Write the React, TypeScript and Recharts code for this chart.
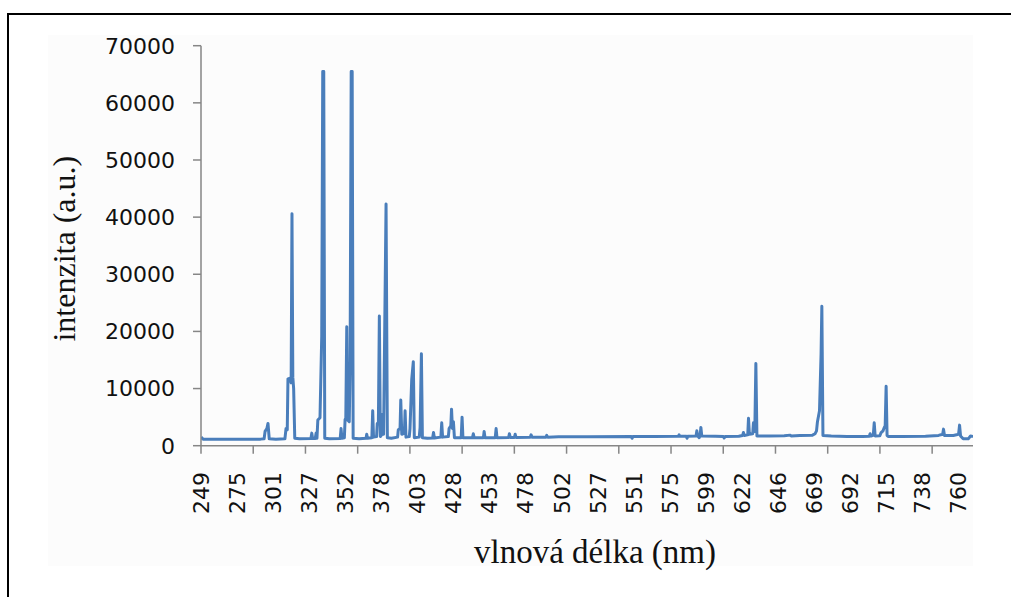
import { Label, Line, LineChart, XAxis, YAxis } from "recharts";

// category labels printed under the x axis (nm), evenly spaced in the original
const WAVE_LABELS = [
  249, 275, 301, 327, 352, 378, 403, 428, 453, 478, 502, 527, 551, 575, 599, 622, 646, 669, 692, 715, 738, 760,
];
const AXIS_END_NM = 769;
// Excel put a tick mark every ~1.45 label steps
const TICK_MARK_STEP = 1.4483;
const Y_TICKS = [0, 10000, 20000, 30000, 40000, 50000, 60000, 70000];

// [wavelength nm, intensity a.u.]
const SPECTRUM: [number, number][] = [
  [249, 1500], [250.5, 1150], [270, 1150], [292, 1150],
  [294.5, 1200], [295.2, 2500], [296.5, 3000], [297.3, 3900], [298.2, 1200],
  [303, 1150], [309.5, 1200],
  [310.3, 3000], [311.2, 2800], [311.7, 11700], [313.2, 11800], [314.0, 11000], [314.6, 40600],
  [315.2, 12000], [315.8, 10000], [316.6, 1300],
  [320, 1200], [328.2, 1250], [328.8, 2200], [329.4, 1250], [331.2, 1250], [331.8, 2200], [332.4, 1300],
  [333.0, 4500], [334.5, 4900], [335.7, 19100], [336.4, 65500], [337.1, 65500], [337.8, 1300],
  [341, 1200], [348.5, 1250], [349.1, 3000], [349.7, 1300], [351.4, 1400], [351.9, 4600], [352.4, 4800],
  [353.1, 20800], [353.7, 4500], [354.9, 4200], [355.5, 14100], [356.3, 65500], [357.0, 65500], [357.7, 1300],
  [362, 1200], [367.0, 1300], [367.5, 2000], [368.0, 1300], [371.2, 1400], [371.8, 6100], [372.4, 1500],
  [374.6, 1600], [375.1, 3900], [375.9, 3800], [376.6, 22700], [377.3, 1600], [378.5, 2000], [379.0, 5500],
  [379.6, 2000], [380.1, 14100], [381.3, 42300], [382.2, 1400],
  [385, 1300], [389.3, 1500], [389.8, 2800], [391.0, 3000], [391.5, 8000], [392.2, 2000], [394.0, 2200],
  [394.5, 6100], [395.1, 1500], [397.4, 1600], [397.9, 3000], [399.1, 11600], [400.2, 14700], [400.9, 1400],
  [404.3, 1500], [404.9, 3200], [405.8, 16100], [406.5, 1400],
  [410, 1300], [413.6, 1350], [414.2, 2300], [414.8, 1350], [419.3, 1500], [419.9, 4000], [420.5, 1500],
  [424.5, 1600], [425.0, 3000], [426.2, 3500], [426.7, 6400], [427.3, 3000], [428.0, 4200], [428.7, 1400],
  [433.4, 1400], [434.0, 5000], [434.6, 1400],
  [441.2, 1400], [441.8, 2100], [442.4, 1400], [448.8, 1400], [449.3, 2500], [449.9, 1400],
  [457.0, 1400], [457.6, 3000], [458.2, 1400],
  [466.3, 1450], [466.8, 2100], [467.4, 1450], [470.3, 1450], [470.8, 2000], [471.4, 1450],
  [481.2, 1500], [481.7, 1900], [482.3, 1500], [491.6, 1500], [492.1, 1800], [492.7, 1500],
  [500, 1550], [520, 1550], [549.4, 1600], [549.9, 1300], [550.5, 1600], [565, 1600],
  [580.7, 1650], [581.2, 1900], [581.7, 1650], [586, 1650], [586.5, 1300], [587, 1650],
  [592.5, 1700], [593.0, 2600], [593.6, 1700], [594.6, 1400], [595.2, 1800], [595.7, 3200], [596.3, 1700],
  [605, 1650], [610.2, 1600], [610.7, 1350], [611.3, 1600], [620, 1650],
  [622.5, 1800], [623.0, 2300], [623.6, 1800], [625.9, 1900], [626.4, 4800], [627.0, 2000],
  [629.2, 2100], [629.7, 4000], [630.6, 2500], [631.3, 14400], [632.0, 1700],
  [640, 1700], [650, 1750], [653.8, 1850], [654.4, 1700], [660, 1800], [668, 1850],
  [669.7, 2100], [670.6, 2600], [671.2, 4200], [672.5, 6100], [673.5, 16000], [674.0, 24400], [674.7, 1800],
  [680, 1700], [690, 1600], [700, 1600],
  [704.3, 1650], [704.8, 2100], [705.4, 1700], [706.8, 1800], [707.4, 4000], [708.0, 1700],
  [711.0, 1750], [711.8, 2300], [713.0, 2600], [713.7, 3100], [714.4, 3500], [715.0, 10400], [715.6, 1800], [716.3, 1600],
  [725, 1600], [740, 1650], [748, 1800], [750.5, 2000], [751.0, 2900], [751.6, 1800],
  [757, 1800], [760.2, 2000], [760.8, 3600], [761.4, 1700], [763.0, 1200], [766.1, 1200], [767.5, 1700], [769, 1600],
];

const AXIS_GRAY = "#868686";
const LINE_BLUE = "#4A7EBB";

// the printed labels sit at equal steps, so place a wavelength by its label slot
function labelPos(nm: number): number {
  const last = WAVE_LABELS.length - 1;
  for (let i = 0; i < last; i++) {
    if (nm <= WAVE_LABELS[i + 1]) {
      return i + (nm - WAVE_LABELS[i]) / (WAVE_LABELS[i + 1] - WAVE_LABELS[i]);
    }
  }
  return last - 1 + (nm - WAVE_LABELS[last - 1]) / (WAVE_LABELS[last] - WAVE_LABELS[last - 1]);
}

const POS_END = labelPos(AXIS_END_NM);
const chartData = SPECTRUM.map(([nm, value]) => ({ pos: labelPos(nm), value }));

const labelTicks = WAVE_LABELS.map((_, i) => i);
const markTicks: number[] = [];
for (let k = 1; k * TICK_MARK_STEP <= POS_END; k++) markTicks.push(k * TICK_MARK_STEP);
const xTicks = [...labelTicks, ...markTicks].sort((a, b) => a - b);

function WaveTick(props: any) {
  const { x, y, payload } = props;
  const v = payload.value as number;
  const isLabel = Number.isInteger(v);
  return (
    <g>
      {(!isLabel || v === 0) && <line x1={x} y1={y} x2={x} y2={y + 8} stroke={AXIS_GRAY} strokeWidth={1.5} />}
      {isLabel && (
        <text
          transform={`translate(${x},${y + 26.3}) rotate(-90)`}
          textAnchor="end"
          dy="0.36em"
          fontFamily="DejaVu Sans"
          fontSize={22}
          fill="#111"
        >
          {WAVE_LABELS[v]}
        </text>
      )}
    </g>
  );
}

export default function App() {
  return (
    <div style={{ position: "absolute", left: 0, top: 0, width: 1011, height: 597, background: "#fff" }}>
      <div style={{ position: "absolute", left: 48, top: 35, width: 925, height: 531, background: "#fcfcfc" }} />
      <div
        style={{
          position: "absolute",
          left: 7,
          top: 13,
          right: 0,
          bottom: 0,
          borderTop: "2px solid #000",
          borderLeft: "2px solid #000",
        }}
      />
      <div style={{ position: "absolute", left: 0, top: 0 }}>
        <LineChart width={1011} height={597} data={chartData} margin={{ top: 45.7, right: 38, bottom: 0, left: 0 }}>
          <XAxis
            dataKey="pos"
            type="number"
            domain={[0, POS_END]}
            allowDataOverflow
            ticks={xTicks}
            interval={0}
            tickLine={false}
            tickSize={0}
            tickMargin={0}
            tick={<WaveTick />}
            stroke={AXIS_GRAY}
            strokeWidth={1.5}
            height={151.3}
          >
            <Label
              content={(p: any) => {
                const vb = p.viewBox;
                return (
                  <text
                    x={vb.x + vb.width / 2 + 8}
                    y={vb.y + 117}
                    textAnchor="middle"
                    fontFamily="Liberation Serif"
                    fontSize={33}
                    fill="#111"
                  >
                    vlnová délka (nm)
                  </text>
                );
              }}
            />
          </XAxis>
          <YAxis
            type="number"
            domain={[0, 70000]}
            ticks={Y_TICKS}
            interval={0}
            width={201}
            tickSize={8}
            tickMargin={18}
            stroke={AXIS_GRAY}
            strokeWidth={1.5}
            tick={{ fill: "#111", fontSize: 22, fontFamily: "DejaVu Sans" }}
          >
            <Label
              content={(p: any) => {
                const vb = p.viewBox;
                const cx = vb.x + 65;
                const cy = vb.y + vb.height / 2 + 3;
                return (
                  <text
                    transform={`translate(${cx},${cy}) rotate(-90)`}
                    textAnchor="middle"
                    dy="0.3em"
                    fontFamily="Liberation Serif"
                    fontSize={32}
                    fill="#111"
                  >
                    intenzita (a.u.)
                  </text>
                );
              }}
            />
          </YAxis>
          <Line
            type="linear"
            dataKey="value"
            stroke={LINE_BLUE}
            strokeWidth={3}
            strokeLinejoin="round"
            dot={false}
            isAnimationActive={false}
          />
        </LineChart>
      </div>
    </div>
  );
}
